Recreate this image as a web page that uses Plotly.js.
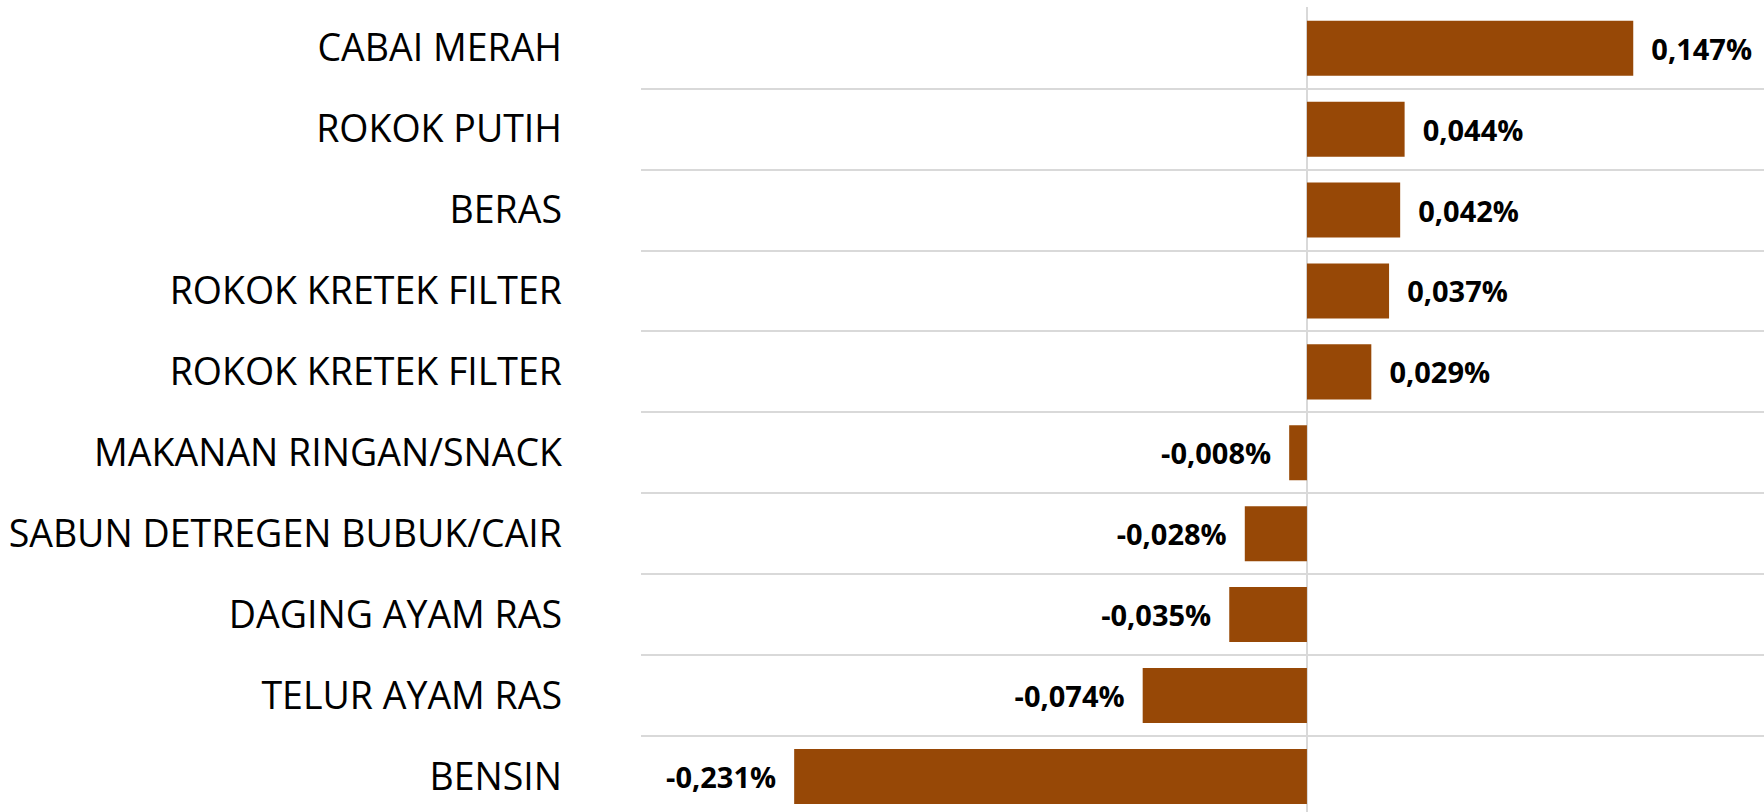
<!DOCTYPE html>
<html>
<head>
<meta charset="utf-8">
<script src="https://cdn.plot.ly/plotly-3.0.1.min.js"></script>
<style>html,body{margin:0;padding:0;background:#fff;}#chart{width:1764px;height:812px;}</style>
</head>
<body>
<div id="chart"></div>
<script>
// Categories (top to bottom) and their values (percent)
const categories = [
  "CABAI MERAH",
  "ROKOK PUTIH",
  "BERAS",
  "ROKOK KRETEK FILTER",
  "ROKOK KRETEK FILTER\u200b",
  "MAKANAN RINGAN/SNACK",
  "SABUN DETREGEN BUBUK/CAIR",
  "DAGING AYAM RAS",
  "TELUR AYAM RAS",
  "BENSIN"
];
const values = [0.147, 0.044, 0.042, 0.037, 0.029, -0.008, -0.028, -0.035, -0.074, -0.231];

const textTemplates = values.map(v => v >= 0 ? '  %{x:.3f}%' : '%{x:.3f}%  ');

const trace = {
  type: 'bar',
  orientation: 'h',
  x: values,
  y: categories,
  marker: {color: '#974806'},
  texttemplate: textTemplates,
  textposition: 'outside',
  cliponaxis: false,
  textfont: {family: 'Open Sans', size: 29, color: '#000000', weight: 'bold'},
  hoverinfo: 'skip'
};

const layout = {
  width: 1764,
  height: 812,
  margin: {l: 641, r: 0, t: 7, b: 0, pad: 0},
  paper_bgcolor: '#ffffff',
  plot_bgcolor: '#ffffff',
  separators: ',.',
  showlegend: false,
  bargap: 0.32,
  font: {family: 'Open Sans', color: '#000000'},
  xaxis: {
    range: [-0.3, 0.2059],
    showgrid: false,
    zeroline: true,
    zerolinecolor: '#d9d9d9',
    zerolinewidth: 2,
    showticklabels: false,
    ticks: '',
    showline: false,
    fixedrange: true
  },
  yaxis: {
    type: 'category',
    range: [9.44, -0.51],
    tickson: 'boundaries',
    showgrid: true,
    gridcolor: '#d9d9d9',
    gridwidth: 2,
    ticks: '',
    showline: false,
    zeroline: false,
    ticklabelstandoff: 78,
    tickfont: {family: 'Open Sans', size: 37.5, color: '#000000'},
    fixedrange: true
  }
};

Plotly.newPlot('chart', [trace], layout, {displayModeBar: false, staticPlot: true});
</script>
</body>
</html>
